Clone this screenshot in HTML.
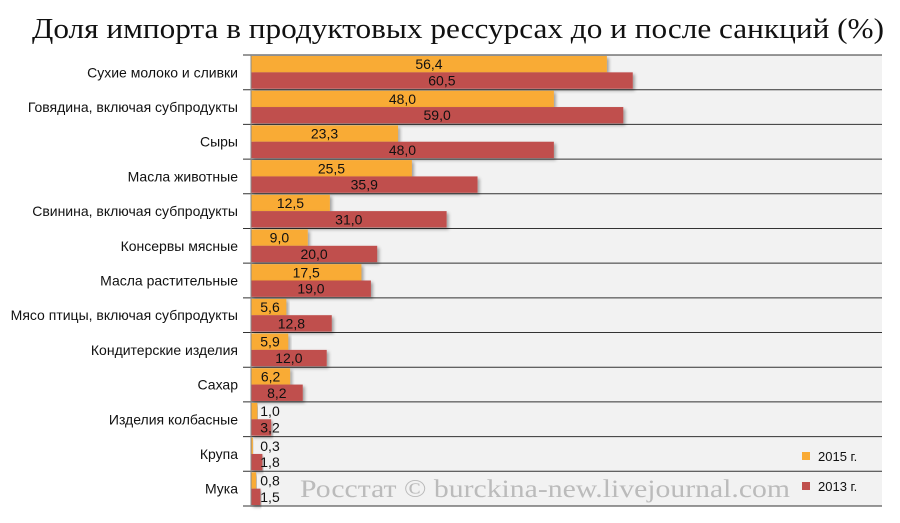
<!DOCTYPE html>
<html><head><meta charset="utf-8"><style>
body{margin:0;background:#fff;}
svg{display:block;}
</style></head><body>
<svg id="c" width="900" height="523" xmlns="http://www.w3.org/2000/svg">
<defs><filter id="sh" x="-5%" y="-20%" width="115%" height="160%"><feDropShadow dx="2" dy="2" stdDeviation="1.5" flood-color="#000" flood-opacity="0.35"/></filter></defs>
<text x="32" y="38" textLength="852" lengthAdjust="spacingAndGlyphs" font-family="Liberation Serif, serif" font-size="28" fill="#111">Доля импорта в продуктовых рессурсах до и после санкций (%)</text>
<rect x="251" y="55" width="631" height="451" fill="#f2f2f2"/>
<g id="grid"></g>
<g id="bars"></g>
<line x1="251" y1="55" x2="251" y2="506" stroke="#888" stroke-width="1"/>
<text x="300" y="497" textLength="490" lengthAdjust="spacingAndGlyphs" font-family="Liberation Serif, serif" font-size="25" fill="#bbb">Росстат © burckina-new.livejournal.com</text>
<g>
<rect x="802" y="452" width="8" height="8" fill="#f9ab36"/>
<text x="818" y="461" font-family="Liberation Sans, sans-serif" font-size="13" fill="#111">2015 г.</text>
<rect x="802" y="482" width="8" height="8" fill="#c0504d"/>
<text x="818" y="491" font-family="Liberation Sans, sans-serif" font-size="13" fill="#111">2013 г.</text>
</g>
</svg>
<script>
const categories=["Сухие молоко и сливки","Говядина, включая субпродукты","Сыры","Масла животные","Свинина, включая субпродукты","Консервы мясные","Масла растительные","Мясо птицы, включая субпродукты","Кондитерские изделия","Сахар","Изделия колбасные","Крупа","Мука"];
const values2015=[56.4,48.0,23.3,25.5,12.5,9.0,17.5,5.6,5.9,6.2,1.0,0.3,0.8];
const values2013=[60.5,59.0,48.0,35.9,31.0,20.0,19.0,12.8,12.0,8.2,3.2,1.8,1.5];
const NS="http://www.w3.org/2000/svg";
const x0=251,x1=882,y0=55,y1=506,maxV=100;
const rowH=(y1-y0)/categories.length;
function xs(v){return x0+(v/maxV)*(x1-x0);}
function yRow(i){return y0+i*rowH;}
const grid=document.getElementById('grid'),bars=document.getElementById('bars');
function mk(tag,attrs,parent){const e=document.createElementNS(NS,tag);for(const k in attrs)e.setAttribute(k,attrs[k]);parent.appendChild(e);return e;}
for(let i=0;i<=categories.length;i++){
  const l=mk('line',{x1:243,x2:x1,y1:yRow(i),y2:yRow(i),stroke:'#333','stroke-width':1},grid);
  
  
}
function fmt(v){return v.toFixed(1).replace('.',',');}
categories.forEach((c,i)=>{
  const top=yRow(i);
  const t=mk('text',{x:238,y:top+rowH/2+5,'text-anchor':'end','font-family':'Liberation Sans, sans-serif','font-size':14,fill:'#111'},bars);
  t.textContent=c;
  
  
  [[values2015,'#f9ab36',top+1,'bar-2015'],[values2013,'#c0504d',top+rowH/2,'bar-2013']].forEach(([arr,col,y,nm])=>{
    const h=rowH/2-1, w=xs(arr[i])-x0;
    const r=mk('rect',{x:x0,y:y,width:w,height:h,fill:col,filter:'url(#sh)'},bars);
    
    
    const cx=Math.max(x0+w/2,x0+19);
    const lb=mk('text',{x:cx,y:y+h/2+5,'text-anchor':'middle','font-family':'Liberation Sans, sans-serif','font-size':14,fill:'#111'},bars);
    lb.textContent=fmt(arr[i]);
    
    
  });
});
</script>
</body></html>
